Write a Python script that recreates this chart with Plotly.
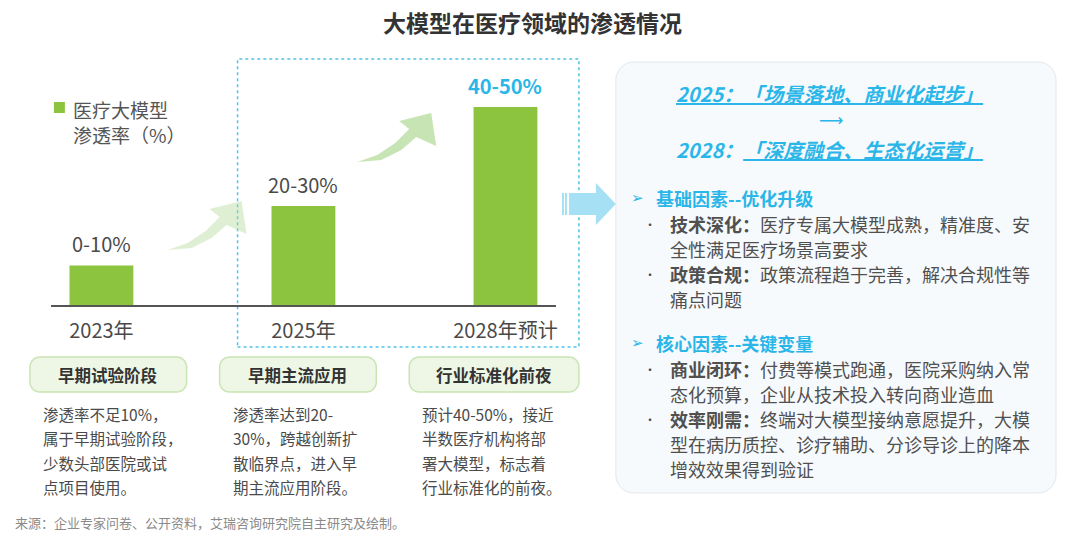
import math
import plotly.graph_objects as go

W, H = 1080, 533

# ---------------- data ----------------
categories = ["2023年", "2025年", "2028年预计"]
penetration = [10, 25, 50]           # bar heights (upper bound of range, %)
value_labels = ["0-10%", "20-30%", "40-50%"]
series_name_lines = ["医疗大模型", "渗透率（%）"]

title_text = "大模型在医疗领域的渗透情况"
stage_names = ["早期试验阶段", "早期主流应用", "行业标准化前夜"]
stage_desc = [
    ["渗透率不足10%，", "属于早期试验阶段，", "少数头部医院或试", "点项目使用。"],
    ["渗透率达到20-", "30%，跨越创新扩", "散临界点，进入早", "期主流应用阶段。"],
    ["预计40-50%，接近", "半数医疗机构将部", "署大模型，标志着", "行业标准化的前夜。"],
]
headline_1 = "2025：「场景落地、商业化起步」"
headline_2_year = "2028："
headline_2_text = "「深度融合、生态化运营」"
factor_groups = [
    ("基础因素--优化升级", [
        ("技术深化：", ["医疗专属大模型成熟，精准度、安", "全性满足医疗场景高要求"]),
        ("政策合规：", ["政策流程趋于完善，解决合规性等", "痛点问题"]),
    ]),
    ("核心因素--关键变量", [
        ("商业闭环：", ["付费等模式跑通，医院采购纳入常", "态化预算，企业从技术投入转向商业造血"]),
        ("效率刚需：", ["终端对大模型接纳意愿提升，大模", "型在病历质控、诊疗辅助、分诊导诊上的降本", "增效效果得到验证"]),
    ]),
]
source_text = "来源：企业专家问卷、公开资料，艾瑞咨询研究院自主研究及绘制。"

# ---------------- styles ----------------
FONT = "Noto Sans CJK SC, Microsoft YaHei, sans-serif"
GREEN = "#8CC43F"
CYAN = "#2AB6E8"
TXT = "#4a4a4a"


def px(x):
    return x / W


def py(y):
    return 1 - y / H


def path_px(points, close=True):
    s = "M " + " L ".join(f"{px(x):.5f},{py(y):.5f}" for x, y in points)
    return s + (" Z" if close else "")


def rounded_rect(x0, y0, x1, y1, r):
    pts = []
    corners = [(x1 - r, y0 + r, -90, 0), (x1 - r, y1 - r, 0, 90),
               (x0 + r, y1 - r, 90, 180), (x0 + r, y0 + r, 180, 270)]
    for cx, cy, a0, a1 in corners:
        for k in range(9):
            a = math.radians(a0 + (a1 - a0) * k / 8)
            pts.append((cx + r * math.cos(a), cy + r * math.sin(a)))
    return path_px(pts)


def note(x, y, text, size, color, xanchor="center", family=FONT, align="center"):
    return dict(x=px(x), y=py(y), xref="paper", yref="paper", text=text,
                showarrow=False, xanchor=xanchor, yanchor="middle", align=align,
                font=dict(family=family, size=size, color=color))


fig = go.Figure()
fig.add_trace(go.Bar(
    x=categories, y=penetration, name="".join(series_name_lines),
    marker=dict(color=GREEN, line=dict(width=0)),
    width=0.316, hoverinfo="skip", showlegend=False,
))

annotations = []
shapes = []

# value labels above bars
for i, (c, v, lab) in enumerate(zip(categories, penetration, value_labels)):
    last = i == len(categories) - 1
    annotations.append(dict(
        x=c, y=v, xref="x", yref="y", text=f"<b>{lab}</b>" if last else lab,
        showarrow=False, xanchor="center", yanchor="middle", yshift=22,
        font=dict(family=FONT, size=20, color=CYAN if last else TXT),
    ))

# legend (series key)
shapes.append(dict(type="rect", xref="paper", yref="paper",
                   x0=px(54), x1=px(65), y0=py(113), y1=py(102),
                   fillcolor=GREEN, line=dict(width=0)))
annotations.append(note(71, 122, "<br>".join(series_name_lines), 19, "#555555",
                        xanchor="left", align="left"))

# title
annotations.append(note(533, 22, f"<b>{title_text}</b>", 23, "#333333"))

# dotted highlight box
shapes.append(dict(type="rect", xref="paper", yref="paper",
                   x0=px(238), x1=px(580), y0=py(347), y1=py(59),
                   line=dict(color="#4FC3EA", width=1.5, dash="dot"),
                   fillcolor="rgba(0,0,0,0)", layer="below"))

# curved growth arrows
arrow_base = [(358, 162), (382, 160), (402, 150), (417, 137), (437, 146), (432, 113),
              (400, 121), (410, 129), (396, 143), (378, 155)]
for dx, dy, col in [(-190, 88, "rgba(178,218,150,0.42)"), (0, 0, "rgba(160,210,130,0.6)")]:
    shapes.append(dict(type="path", xref="paper", yref="paper",
                       path=path_px([(x + dx, y + dy) for x, y in arrow_base]),
                       fillcolor=col, line=dict(width=0), layer="below"))

# big blue arrow
ARROW_BLUE = "#A6E0F5"
for x0, x1 in [(563, 565), (566, 568)]:
    shapes.append(dict(type="rect", xref="paper", yref="paper", x0=px(x0), x1=px(x1),
                       y0=py(215), y1=py(193), fillcolor=ARROW_BLUE, line=dict(width=0)))
shapes.append(dict(type="path", xref="paper", yref="paper",
                   path=path_px([(570, 193), (597, 193), (597, 183), (617, 204),
                                 (597, 225), (597, 215), (570, 215)]),
                   fillcolor=ARROW_BLUE, line=dict(width=0)))

# right panel
shapes.append(dict(type="path", xref="paper", yref="paper",
                   path=rounded_rect(617, 62, 1058, 493, 18),
                   fillcolor="#F7FAFC", line=dict(color="#E3E8EC", width=1), layer="below"))

annotations.append(note(831, 93, f"<b><i><u>{headline_1}</u></i></b>", 20, CYAN))
annotations.append(note(833, 120, "⟶", 17, CYAN, family="DejaVu Sans"))
annotations.append(note(831, 150, f"<b><i>{headline_2_year}<u>{headline_2_text}</u></i></b>", 20, CYAN))

group_y = [198, 343]
line_gap = 25
for (head, items), gy in zip(factor_groups, group_y):
    annotations.append(note(639, gy, "➢", 15, CYAN, family="DejaVu Sans"))
    annotations.append(note(655, gy, f"<b>{head}</b>", 18, CYAN, xanchor="left"))
    yy = gy + 26
    for key, lines in items:
        annotations.append(note(651, yy, "•", 12, TXT))
        for j, ln in enumerate(lines):
            t = f"<b>{key}</b>{ln}" if j == 0 else ln
            annotations.append(note(669, yy, t, 18, "#505050", xanchor="left"))
            yy += line_gap

# stage boxes
box_x = [(30, 187), (220, 377), (410, 580)]
desc_x = [41, 231, 421]
desc_y = [414, 438, 463, 487]
for (x0, x1), name, dx, lines in zip(box_x, stage_names, desc_x, stage_desc):
    shapes.append(dict(type="path", xref="paper", yref="paper",
                       path=rounded_rect(x0, 357, x1, 392, 10),
                       fillcolor="#EEF6E5", line=dict(color="#CBE4B3", width=1.5)))
    annotations.append(note((x0 + x1) / 2, 375, f"<b>{name}</b>", 16.5, "#333333"))
    for ln, yy in zip(lines, desc_y):
        annotations.append(note(dx, yy, ln, 15.5, TXT, xanchor="left"))

annotations.append(note(13, 522, source_text, 13, "#8a8a8a", xanchor="left"))

fig.update_layout(
    width=W, height=H, margin=dict(l=0, r=0, t=0, b=0),
    paper_bgcolor="white", plot_bgcolor="rgba(0,0,0,0)",
    font=dict(family=FONT, color=TXT),
    xaxis=dict(domain=[px(51), px(557)], range=[-0.25, 2.25], type="category",
               showline=True, linecolor="#555555", linewidth=1.5, showgrid=False,
               ticks="", ticklabelstandoff=7, zeroline=False,
               tickfont=dict(family=FONT, size=20, color=TXT)),
    yaxis=dict(domain=[py(305), py(67.4)], range=[0, 60], visible=False, showgrid=False),
    showlegend=False,
    shapes=shapes, annotations=annotations,
    hovermode=False,
)

fig.write_html("out.html", config={"displayModeBar": False},
               post_script="document.body.style.margin='0px';")
